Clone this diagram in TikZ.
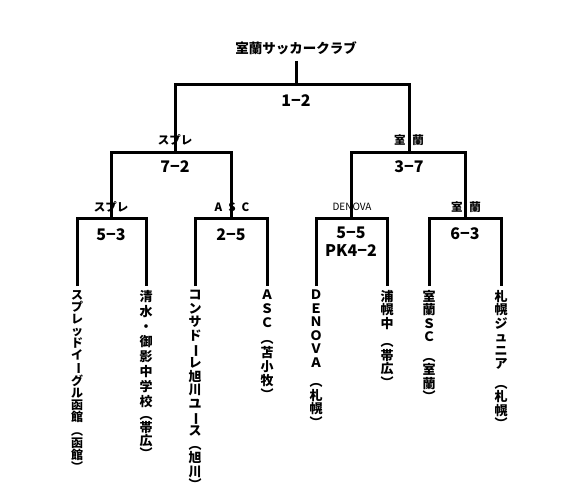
\documentclass[tikz,border=0pt]{standalone}
\usepackage{fontspec}
\setmainfont{Noto Sans CJK JP}
\newcommand{\tatebar}{\rotatebox[origin=c]{-90}{ー}}
\begin{document}
\begin{tikzpicture}[x=1pt, y=-1pt, line width=3pt,
    title/.style={font=\fontsize{13.5}{15}\selectfont\bfseries, outer sep=3pt},
    score/.style={font=\fontsize{16}{18}\selectfont\bfseries, align=center},
    winner/.style={font=\fontsize{11.5}{12}\selectfont\bfseries},
    team/.style={anchor=north, align=center, inner sep=1pt, outer sep=3pt,
        font=\fontsize{13}{13.5}\selectfont\bfseries}]
    \useasboundingbox (0,0) rectangle (586,491);
    % match points
    \coordinate (final) at (296,84);
    \coordinate (semiL) at (175,152);
    \coordinate (semiR) at (409,152);
    \coordinate (qf1) at (111,218);
    \coordinate (qf2) at (231,218);
    \coordinate (qf3) at (351,218);
    \coordinate (qf4) at (465,218);
    % winner of the day
    \node[title] (club) at (296,48) {室蘭サッカークラブ};
    % teams, written top to bottom
    \node[team, font=\fontsize{12}{12}\selectfont\bfseries] (t1) at (77,286)
        {ス\\プ\\レ\\ッ\\ド\\イ\\\tatebar\\グ\\ル\\函\\館\\[2pt]︵\\函\\館\\︶};
    \node[team, font=\fontsize{13}{15}\selectfont\bfseries] (t2) at (146,286)
        {清\\水\\・\\御\\影\\中\\学\\校\\[-2pt]︵\\[-2pt]帯\\[-2pt]広\\[-2pt]︶};
    \node[team, font=\fontsize{13}{13.6}\selectfont\bfseries] (t3) at (195,286)
        {コ\\ン\\サ\\ド\\\tatebar\\レ\\旭\\川\\ユ\\\tatebar\\ス\\︵\\旭\\川\\︶};
    \node[team, font=\fontsize{13}{14}\selectfont\bfseries] (t4) at (267,286)
        {Ａ\\Ｓ\\Ｃ\\[2pt]︵\\苫\\小\\牧\\︶};
    \node[team] (t5) at (316,286)
        {Ｄ\\Ｅ\\Ｎ\\Ｏ\\Ｖ\\Ａ\\[6pt]︵\\札\\幌\\︶};
    \node[team] (t6) at (387,286)
        {浦\\幌\\中\\[5pt]︵\\帯\\広\\︶};
    \node[team] (t7) at (429,286)
        {室\\蘭\\Ｓ\\Ｃ\\[6pt]︵\\室\\蘭\\︶};
    \node[team] (t8) at (501,286)
        {札\\幌\\ジ\\ュ\\ニ\\ア\\[6pt]︵\\札\\幌\\︶};
    % brackets
    \draw (club) -- (final);
    \draw (semiL) |- (final) -| (semiR);
    \draw (qf1) |- (semiL) -| (qf2);
    \draw (qf3) |- (semiR) -| (qf4);
    \draw (t1) |- (qf1) -| (t2);
    \draw (t3) |- (qf2) -| (t4);
    \draw (t5) |- (qf3) -| (t6);
    \draw (t7) |- (qf4) -| (t8);
    % scores
    \node[score] (sc-final) at (296,101) {1−2};
    \node[score] (sc-semiL) at (175,167) {7−2};
    \node[score] (sc-semiR) at (409,167) {3−7};
    \node[score] (sc-qf1) at (111,235) {5−3};
    \node[score] (sc-qf2) at (231,235) {2−5};
    \node[score] (sc-qf3) at (351,242) {5−5\\PK4−2};
    \node[score] (sc-qf4) at (465,234) {6−3};
    % who went through
    \node[winner] (w-semiL) at (175,140) {スプレ};
    \node[winner] (w-semiR) at (409,140) {室\hspace{7pt}蘭};
    \node[winner] (w-qf1) at (111,207) {スプレ};
    \node[winner] (w-qf2) at (232,207) {A\hspace{6pt}S\hspace{6pt}C};
    \node[winner, font=\fontsize{10}{11}\selectfont] (w-qf3) at (352,207) {DENOVA};
    \node[winner] (w-qf4) at (466,207) {室\hspace{7pt}蘭};
\end{tikzpicture}
\end{document}
